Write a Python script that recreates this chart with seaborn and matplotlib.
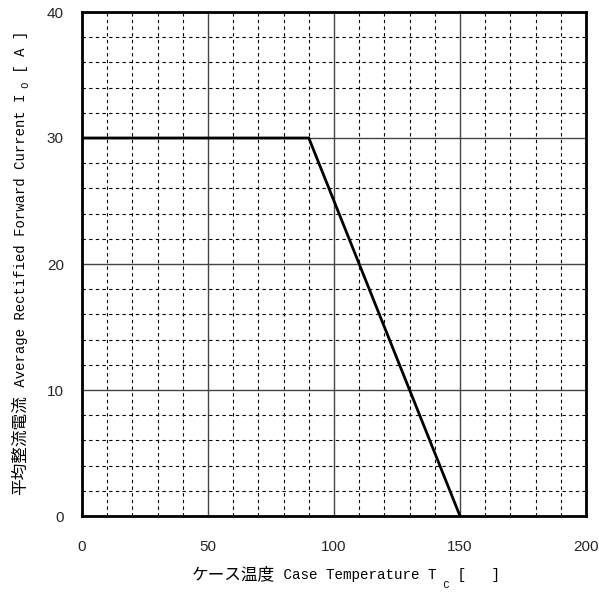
import matplotlib
matplotlib.use("Agg")
import matplotlib.pyplot as plt
import seaborn as sns
import pandas as pd
from matplotlib.ticker import MultipleLocator
from matplotlib.transforms import IdentityTransform

temps = [0, 90, 150]
currents = [30, 30, 0]
x_ticks = [0, 50, 100, 150, 200]
y_ticks = [0, 10, 20, 30, 40]

sns.set_theme(style="white")
plt.rcParams['font.family'] = ['Liberation Sans', 'Noto Sans CJK JP']

W, H = 599, 596
fig = plt.figure(figsize=(W/100, H/100), dpi=100)
ax = fig.add_axes([82/W, 80/H, 504/W, 504/H])

df = pd.DataFrame({"Tc": temps, "Io": currents})
sns.lineplot(data=df, x="Tc", y="Io", ax=ax, color="black", linewidth=2, zorder=5)

ax.set_xlim(0, 200)
ax.set_ylim(0, 40)
ax.set_xticks(x_ticks)
ax.set_yticks(y_ticks)
ax.xaxis.set_minor_locator(MultipleLocator(10))
ax.yaxis.set_minor_locator(MultipleLocator(2))
ax.grid(which="major", color="#444444", linewidth=1, linestyle="-")
ax.grid(which="minor", color="black", linewidth=0.8, linestyle=(0, (3, 3)))
ax.tick_params(which="both", length=0)
ax.tick_params(axis="x", pad=17, labelsize=11)
ax.tick_params(axis="y", pad=13, labelsize=11)
for s in ax.spines.values():
    s.set_color("black")
    s.set_linewidth(2)
ax.set_xlabel("")
ax.set_ylabel("")

cjk = ['Noto Sans CJK JP', 'DejaVu Sans']
mono = ['Liberation Mono', 'Noto Sans CJK JP']

def draw_seq(pieces, x0, y0, vertical=False):
    fig.canvas.draw()
    r = fig.canvas.get_renderer()
    pos = 0.0
    for text, fam, size, off in pieces:
        if vertical:
            t = fig.text(x0 + off, y0 + pos, text, transform=IdentityTransform(),
                         rotation=90, rotation_mode="anchor", ha="left", va="baseline",
                         family=fam, fontsize=size, color="black")
            pos += t.get_window_extent(r).height
        else:
            t = fig.text(x0 + pos, y0 - off, text, transform=IdentityTransform(),
                         ha="left", va="baseline", family=fam, fontsize=size, color="black")
            pos += t.get_window_extent(r).width

draw_seq([("ケース温度", cjk, 12, 0),
          (" Case Temperature T", mono, 10.3, 0),
          (" C", mono, 7.5, 9),
          (" [   ]", mono, 10.3, 0)], 192, H - 579)

draw_seq([("平均整流電流", cjk, 12, 0),
          (" Average Rectified Forward Current I", mono, 10, 0),
          (" O", mono, 7.5, 4),
          (" [ A ]", mono, 10, 0)], 25, H - 495, vertical=True)

fig.savefig("out.png", dpi=100)
